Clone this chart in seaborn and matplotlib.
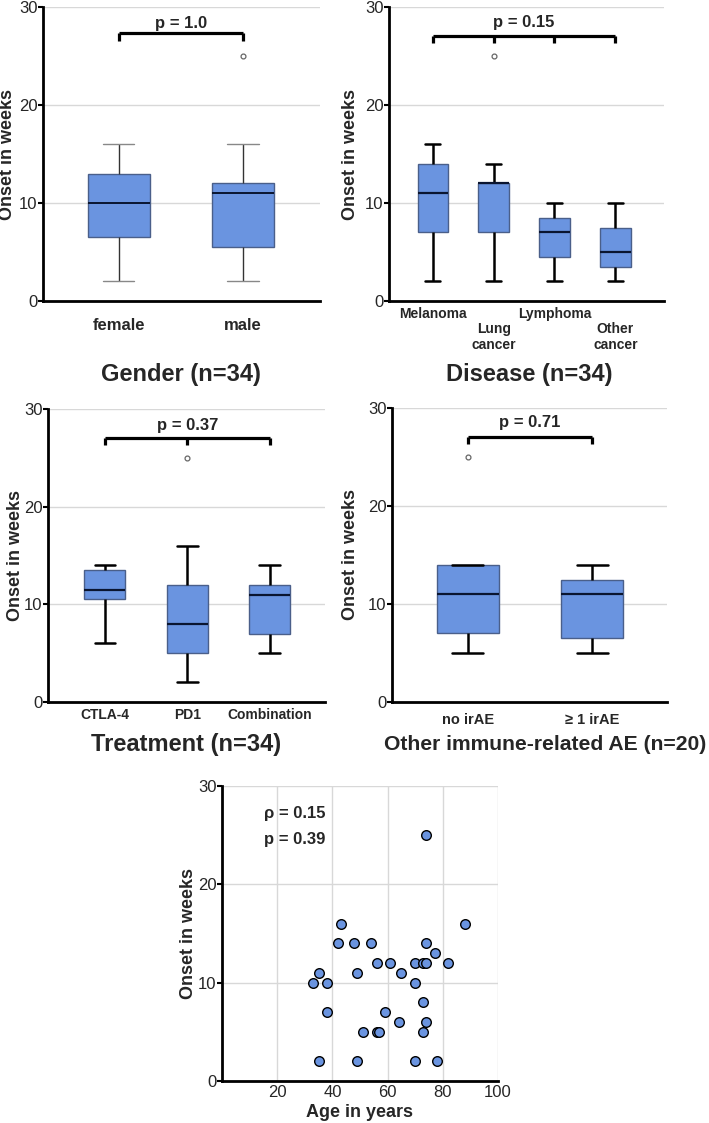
import matplotlib
matplotlib.use("Agg")
import matplotlib.pyplot as plt
import seaborn as sns
import pandas as pd

# ---------------- data ----------------
gender_cats = ["female", "male"]
gender_female = [2, 6.5, 10, 13, 16]
gender_male = [2, 4, 5.5, 9, 11, 11.5, 12, 16, 25]
gender_p = "p = 1.0"

disease_cats = ["Melanoma", "Lung cancer", "Lymphoma", "Other cancer"]
disease_labels = ["Melanoma", "\nLung\ncancer", "Lymphoma", "\nOther\ncancer"]
disease_melanoma = [2, 7, 11, 14, 16]
disease_lung = [2, 5, 7, 10, 12, 12, 12, 14, 25]
disease_lymphoma = [2, 4.5, 7, 8.5, 10]
disease_other = [2, 3.5, 5, 7.5, 10]
disease_p = "p = 0.15"

treat_cats = ["CTLA-4", "PD1", "Combination"]
treat_ctla4 = [6, 10.5, 11.5, 13.5, 14]
treat_pd1 = [2, 3, 5, 6, 8, 10, 12, 16, 25]
treat_combo = [5, 7, 11, 12, 14]
treat_p = "p = 0.37"

irae_cats = ["no irAE", "\u2265 1 irAE"]
irae_none = [5, 6, 7, 9, 11, 12, 14, 14, 25]
irae_some = [5, 6.5, 11, 12.5, 14]
irae_p = "p = 0.71"

age_years = [74, 43, 88, 42, 48, 54, 74, 77, 56, 61, 70, 73, 74, 82, 35, 49, 65,
             33, 38, 70, 73, 38, 59, 64, 74, 51, 56, 57, 73, 35, 49, 70, 78]
onset_weeks = [25, 16, 16, 14, 14, 14, 14, 13, 12, 12, 12, 12, 12, 12, 11, 11, 11,
               10, 10, 10, 8, 7, 7, 6, 6, 5, 5, 5, 5, 2, 2, 2, 2]
rho_text = "\u03c1 = 0.15"
pcorr_text = "p = 0.39"

titles = ["Gender (n=34)", "Disease (n=34)", "Treatment (n=34)",
          "Other immune-related AE (n=20)"]

# ---------------- style ----------------
sns.set_theme(style="white")
plt.rcParams["font.family"] = ["Liberation Sans", "DejaVu Sans"]

W, H = 709, 1123
fig = plt.figure(figsize=(W / 100, H / 100), dpi=100)


def add_ax(l, t, r, b):
    return fig.add_axes([l / W, 1 - b / H, (r - l) / W, (b - t) / H])


BOX_FILL = "#6a94e0"
BOX_EDGE = "#4a5f8a"
GRID = "#d8d8d8"


def long_df(cats, groups):
    rows = []
    for c, g in zip(cats, groups):
        for v in g:
            rows.append((c, v))
    return pd.DataFrame(rows, columns=["group", "onset"])


def style_axes(ax, xlim, ylabel_dist, axw):
    ax.set_ylim(0, 30)
    ax.set_xlim(*xlim)
    ax.set_yticks([0, 10, 20, 30])
    for y in [10, 20, 30]:
        ax.axhline(y, color=GRID, lw=1.0, zorder=0)
    for s in ["top", "right"]:
        ax.spines[s].set_visible(False)
    for s in ["left", "bottom"]:
        ax.spines[s].set_linewidth(2.0)
        ax.spines[s].set_color("black")
    ax.tick_params(axis="y", length=3.5, width=1.5, color="black", labelsize=12,
                   pad=0.5, left=True)
    ax.set_ylabel("Onset in weeks", fontsize=13, fontweight="bold")
    ax.yaxis.set_label_coords(-ylabel_dist / axw, 0.5)
    ax.set_xlabel("")


def bracket(ax, xs, y, drop, text, ty, fs=12):
    ax.plot([xs[0], xs[-1]], [y, y], color="black", lw=2.3, solid_capstyle="butt",
            zorder=5)
    for x in xs:
        ax.plot([x, x], [y, y - drop], color="black", lw=2.3,
                solid_capstyle="butt", zorder=5)
    ax.text((xs[0] + xs[-1]) / 2, ty, text, ha="center", va="center",
            fontsize=fs, fontweight="bold")


def draw_box(ax, df, order, thin=False):
    if thin:
        wprops = dict(color="#333333", linewidth=1.0)
        cprops = dict(color="#888888", linewidth=1.0)
        mprops = dict(color="#0a1530", linewidth=1.4)
    else:
        wprops = dict(color="black", linewidth=1.8)
        cprops = dict(color="black", linewidth=1.8)
        mprops = dict(color="#0a1530", linewidth=1.6)
    sns.boxplot(data=df, x="group", y="onset", order=order, ax=ax,
                color=BOX_FILL, saturation=1, width=0.5, whis=1.5,
                boxprops=dict(facecolor=BOX_FILL, edgecolor=BOX_EDGE, linewidth=1.0),
                medianprops=mprops,
                whiskerprops=wprops, capprops=cprops,
                flierprops=dict(marker="o", markersize=3.5, markerfacecolor="white",
                                markeredgecolor="#666666", markeredgewidth=0.9))


# ---- panel 1: gender ----
ax1 = add_ax(43, 7, 320, 301)
df1 = long_df(gender_cats, [gender_female, gender_male])
draw_box(ax1, df1, gender_cats, thin=True)
style_axes(ax1, (-0.61, 1.62), 27, 320 - 43)
ax1.tick_params(axis="x", length=0, labelsize=12, pad=12)
for lab in ax1.get_xticklabels():
    lab.set_fontweight("bold")
bracket(ax1, [0, 1], 27.3, 0.8, gender_p, 28.3)

# ---- panel 2: disease ----
ax2 = add_ax(389, 7, 664, 301)
df2 = long_df(disease_cats,
              [disease_melanoma, disease_lung, disease_lymphoma, disease_other])
draw_box(ax2, df2, disease_cats)
style_axes(ax2, (-0.72, 3.8), 30, 664 - 389)
ax2.set_xticks(range(len(disease_cats)))
ax2.set_xticklabels(disease_labels, fontsize=10, fontweight="bold",
                    linespacing=1.15)
ax2.tick_params(axis="x", length=0, pad=4)
bracket(ax2, [0, 1, 2, 3], 27.0, 0.7, disease_p, 28.4)

# ---- panel 3: treatment ----
ax3 = add_ax(48, 409, 325, 702)
df3 = long_df(treat_cats, [treat_ctla4, treat_pd1, treat_combo])
draw_box(ax3, df3, treat_cats)
style_axes(ax3, (-0.69, 2.67), 24, 325 - 48)
ax3.tick_params(axis="x", length=0, labelsize=10, pad=4)
for lab in ax3.get_xticklabels():
    lab.set_fontweight("bold")
bracket(ax3, [0, 1, 2], 27.0, 0.7, treat_p, 28.3)

# ---- panel 4: irAE ----
ax4 = add_ax(392, 408, 667, 702)
df4 = long_df(irae_cats, [irae_none, irae_some])
draw_box(ax4, df4, irae_cats)
style_axes(ax4, (-0.61, 1.6), 33, 667 - 392)
ax4.tick_params(axis="x", length=0, labelsize=10.5, pad=8)
for lab in ax4.get_xticklabels():
    lab.set_fontweight("bold")
bracket(ax4, [0, 1], 27.0, 0.7, irae_p, 28.5)

# ---- titles ----
fig.text(181 / W, 1 - 375 / H, titles[0], ha="center", va="center",
         fontsize=17, fontweight="bold")
fig.text(529 / W, 1 - 375 / H, titles[1], ha="center", va="center",
         fontsize=17, fontweight="bold")
fig.text(186 / W, 1 - 745 / H, titles[2], ha="center", va="center",
         fontsize=17, fontweight="bold")
fig.text(384 / W, 1 - 745 / H, titles[3], ha="left", va="center",
         fontsize=15.2, fontweight="bold")

# ---- panel 5: scatter ----
ax5 = add_ax(222, 786, 498, 1081)
df5 = pd.DataFrame({"age": age_years, "onset": onset_weeks})
ax5.set_axisbelow(True)
sns.scatterplot(data=df5, x="age", y="onset", ax=ax5, s=48, color=BOX_FILL,
                edgecolor="black", linewidth=1.0, zorder=3)
ax5.set_xlim(0, 100)
ax5.set_ylim(0, 30)
ax5.set_xticks([20, 40, 60, 80, 100])
ax5.set_yticks([0, 10, 20, 30])
for x in [20, 40, 60, 80, 100]:
    ax5.axvline(x, color=GRID, lw=1.0, zorder=0)
for y in [10, 20, 30]:
    ax5.axhline(y, color=GRID, lw=1.0, zorder=0)
for s in ["top", "right"]:
    ax5.spines[s].set_visible(False)
for s in ["left", "bottom"]:
    ax5.spines[s].set_linewidth(2.0)
    ax5.spines[s].set_color("black")
ax5.tick_params(axis="y", length=3.5, width=1.5, color="black", labelsize=12,
                pad=0.5, left=True)
ax5.tick_params(axis="x", length=0, labelsize=12, pad=3)
ax5.set_ylabel("Onset in weeks", fontsize=13, fontweight="bold")
ax5.yaxis.set_label_coords(-25 / (498 - 222), 0.5)
ax5.set_xlabel("Age in years", fontsize=13, fontweight="bold", labelpad=3)
ax5.text(15.3, 27.2, rho_text, ha="left", va="center", fontsize=12,
         fontweight="bold")
ax5.text(15.3, 24.6, pcorr_text, ha="left", va="center", fontsize=12,
         fontweight="bold")

fig.savefig("out.png", dpi=100)
